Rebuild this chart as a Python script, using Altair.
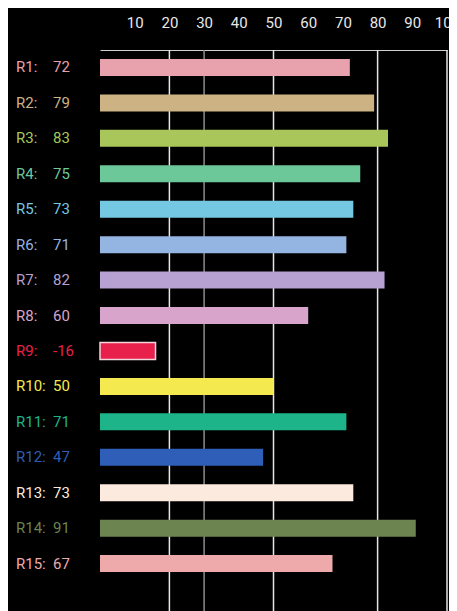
import altair as alt
import pandas as pd

names = ["R1", "R2", "R3", "R4", "R5", "R6", "R7", "R8", "R9", "R10",
         "R11", "R12", "R13", "R14", "R15"]
values = [72, 79, 83, 75, 73, 71, 82, 60, -16, 50, 71, 47, 73, 91, 67]
colors = ["#E8A2AE", "#CDB384", "#A8C65A", "#6CC898", "#74C8E2", "#94B4E2",
          "#B7A0D2", "#D8A4CC", "#E8204C", "#F4EA50", "#1EB48A", "#2E5EB8",
          "#FDEADE", "#6C8450", "#EEAAAA"]
tick_values = [10, 20, 30, 40, 50, 60, 70, 80, 90, 100]
grid_values = [20, 30, 50, 80, 100]
grid_colors = ["#e6e6e6", "#8c8c8c", "#e6e6e6", "#e6e6e6", "#e6e6e6"]

df = pd.DataFrame({"name": names, "value": values, "color": colors})
df["label"] = df["name"] + ":"
df["vtext"] = df["value"].astype(str)
grid_df = pd.DataFrame({"v": grid_values, "c": grid_colors})

xscale = alt.Scale(domain=[0, 100], nice=False, zero=True)
xaxis = alt.Axis(orient="top", values=tick_values, grid=False,
                 ticks=False, tickSize=0, labelPadding=20,
                 labelFont="Roboto", labelFontSize=15,
                 labelColor="#e8e8e8", labelFlush=False,
                 labelOverlap=False, domainColor="#d0d0d0",
                 domainWidth=1.2)
y = alt.Y("name:N", sort=names, axis=None,
          scale=alt.Scale(paddingInner=0.52, paddingOuter=0.676, align=0.1875))

rules = alt.Chart(grid_df).mark_rule(strokeWidth=1.5).encode(
    x=alt.X("v:Q", scale=xscale, title=None, axis=xaxis),
    color=alt.Color("c:N", scale=None),
)

bars = alt.Chart(df).transform_calculate(
    length="abs(datum.value)"
).mark_bar(stroke="#f2d6dc").encode(
    x=alt.X("length:Q", scale=xscale, title=None, axis=xaxis),
    y=y,
    color=alt.Color("color:N", scale=None),
    strokeWidth=alt.condition("datum.value < 0", alt.value(1.5), alt.value(0)),
)

names_text = alt.Chart(df).mark_text(
    align="left", baseline="middle", font="Roboto", fontSize=15
).encode(
    y=y,
    x=alt.value(-84),
    text="label:N",
    color=alt.Color("color:N", scale=None),
)

values_text = alt.Chart(df).mark_text(
    align="left", baseline="middle", font="Roboto", fontSize=15
).encode(
    y=y,
    x=alt.value(-47),
    text="vtext:N",
    color=alt.Color("color:N", scale=None),
)

chart = alt.layer(rules, bars, names_text, values_text).properties(
    width=347,
    height=561,
    autosize=alt.AutoSizeParams(type="none"),
    padding={"left": 92, "top": 42, "right": 2, "bottom": 0},
    background="#000000",
).configure_view(strokeWidth=0)

chart.save("out.html", embed_options={"renderer": "svg", "actions": False})
